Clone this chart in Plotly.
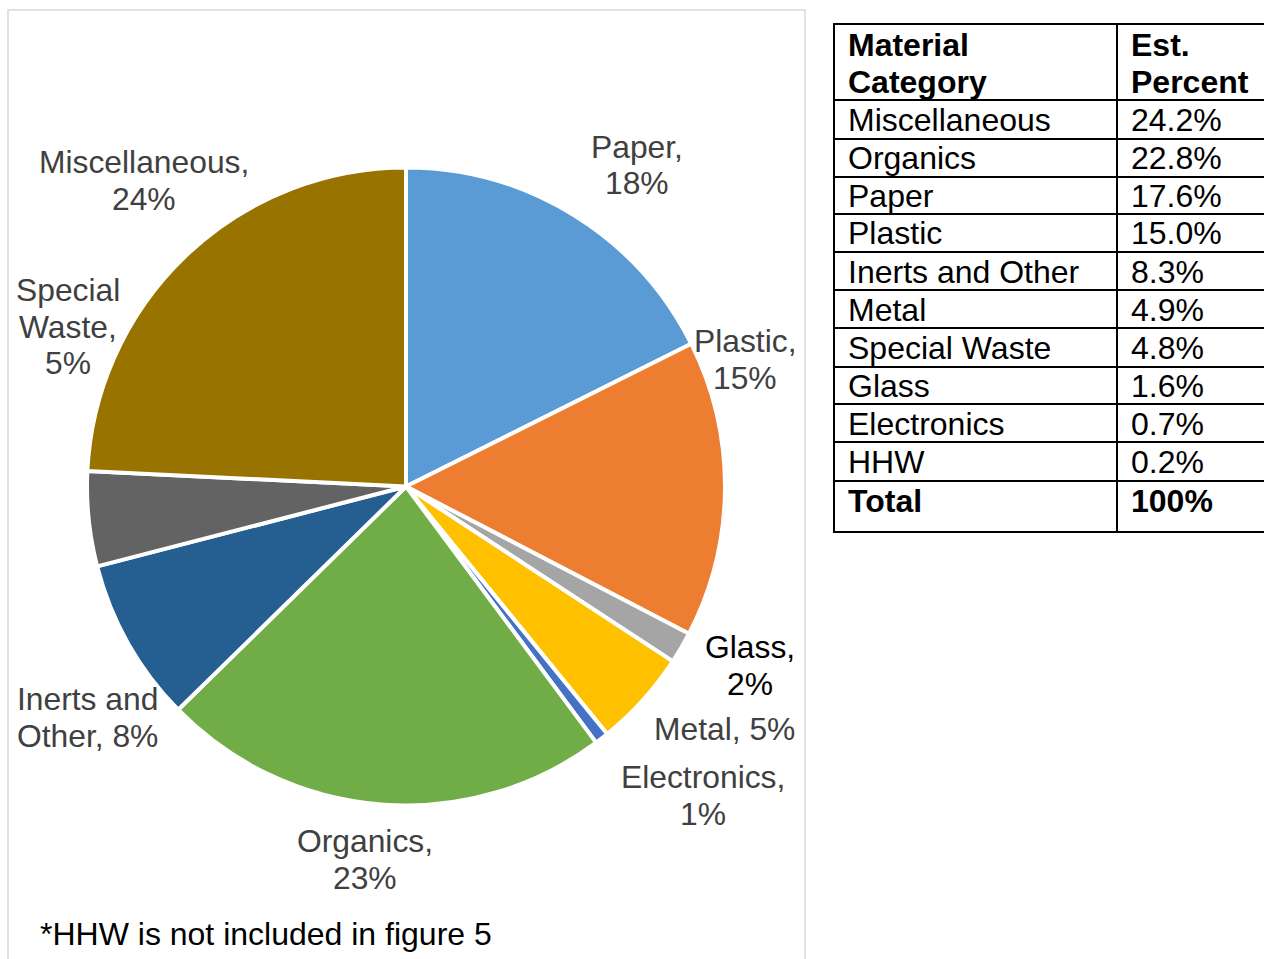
import plotly.graph_objects as go

# Composition shown in the pie (HHW is excluded from the figure)
categories = ["Paper", "Plastic", "Glass", "Metal", "Electronics",
              "Organics", "Inerts and Other", "Special Waste", "Miscellaneous"]
percents = [17.6, 15.0, 1.6, 4.9, 0.7, 22.8, 8.3, 4.8, 24.2]

# Summary table (sorted by share, HHW included)
table_categories = ["Miscellaneous", "Organics", "Paper", "Plastic", "Inerts and Other",
                    "Metal", "Special Waste", "Glass", "Electronics", "HHW"]
table_percents = [24.2, 22.8, 17.6, 15.0, 8.3, 4.9, 4.8, 1.6, 0.7, 0.2]
table_total_label = "Total"
table_total_value = "100%"
table_headers = [["Material", "Category"], ["Est.", "Percent"]]

footnote = "*HHW is not included in figure 5"

# ---- styling ----
W, H = 1264, 959
FONT = "Liberation Sans, Arial, sans-serif"
slice_colors = ["#5B9BD5", "#ED7D31", "#A5A5A5", "#FFC000", "#4472C4",
                "#70AD47", "#255E91", "#636363", "#997300"]

# data-label layout: how each label wraps, where its first line sits, colour
label_lines = {
    "Paper": ["Paper,", "{pct}"],
    "Plastic": ["Plastic,", "{pct}"],
    "Glass": ["Glass,", "{pct}"],
    "Metal": ["Metal, {pct}"],
    "Electronics": ["Electronics,", "{pct}"],
    "Organics": ["Organics,", "{pct}"],
    "Inerts and Other": ["Inerts and", "Other, {pct}"],
    "Special Waste": ["Special", "Waste,", "{pct}"],
    "Miscellaneous": ["Miscellaneous,", "{pct}"],
}
label_pos = {
    "Paper": (637, 147),
    "Plastic": (745, 341),
    "Glass": (750, 647),
    "Metal": (725, 729),
    "Electronics": (703, 777),
    "Organics": (365, 841),
    "Inerts and Other": (87, 699),
    "Special Waste": (68, 290),
    "Miscellaneous": (144, 162),
}
label_color = {"Glass": "#000000"}
LABEL_SIZE = 31.8
LINE_STEP = 36.5


def px(x):
    return x / W


def py(y):
    return 1 - y / H


# pie geometry (pixels)
cx, cy, r = 406, 486.5, 319

fig = go.Figure()
fig.add_trace(go.Pie(
    labels=categories,
    values=percents,
    sort=False,
    direction="clockwise",
    rotation=0,
    marker=dict(colors=slice_colors, line=dict(color="#FFFFFF", width=4)),
    textinfo="none",
    hoverinfo="label+percent",
    showlegend=False,
    domain=dict(x=[px(cx - r), px(cx + r)], y=[py(cy + r), py(cy - r)]),
))

annotations = []
shapes = []

# chart frame
shapes.append(dict(type="rect", xref="paper", yref="paper",
                   x0=px(8), x1=px(805), y0=py(975), y1=py(10),
                   line=dict(color="#D9D9D9", width=1.5), fillcolor="rgba(0,0,0,0)"))

# data labels
for name, val in zip(categories, percents):
    pct = f"{round(val)}%"
    x, y0 = label_pos[name]
    for i, line in enumerate(label_lines[name]):
        annotations.append(dict(
            x=px(x), y=py(y0 + i * LINE_STEP), xref="paper", yref="paper",
            text=line.format(pct=pct), showarrow=False,
            xanchor="center", yanchor="middle",
            font=dict(family=FONT, size=LABEL_SIZE, color=label_color.get(name, "#404040")),
        ))

# footnote
annotations.append(dict(x=px(38), y=py(934), xref="paper", yref="paper",
                        text=footnote, showarrow=False, xanchor="left", yanchor="middle",
                        font=dict(family=FONT, size=32, color="#000000")))

# ---- table ----
T_LEFT, T_MID, T_RIGHT = 834, 1117, 1270
h_lines = [24, 100, 139, 177, 214, 252, 290, 328, 367, 404, 442, 481, 532]
for yl in h_lines:
    shapes.append(dict(type="line", xref="paper", yref="paper",
                       x0=px(T_LEFT - 1), x1=px(T_RIGHT), y0=py(yl), y1=py(yl),
                       line=dict(color="#000000", width=2)))
for xl in (T_LEFT, T_MID):
    shapes.append(dict(type="line", xref="paper", yref="paper",
                       x0=px(xl), x1=px(xl), y0=py(h_lines[0]), y1=py(h_lines[-1]),
                       line=dict(color="#000000", width=2)))

TABLE_SIZE = 32
col_x = [846, 1129]


def cell(x, y, text, bold=False):
    annotations.append(dict(
        x=px(x), y=py(y), xref="paper", yref="paper",
        text=f"<b>{text}</b>" if bold else text, showarrow=False,
        xanchor="left", yanchor="middle",
        font=dict(family=FONT, size=TABLE_SIZE, color="#000000"),
    ))


for ci, hdr in enumerate(table_headers):
    for li, line in enumerate(hdr):
        cell(col_x[ci], 45 + li * 37, line, bold=True)

for i, (name, val) in enumerate(zip(table_categories, table_percents)):
    yc = (h_lines[i + 1] + h_lines[i + 2]) / 2 + 0.5
    cell(col_x[0], yc, name)
    cell(col_x[1], yc, f"{val:.1f}%")

cell(col_x[0], 501, table_total_label, bold=True)
cell(col_x[1], 501, table_total_value, bold=True)

fig.update_layout(
    width=W, height=H,
    margin=dict(l=0, r=0, t=0, b=0),
    paper_bgcolor="#FFFFFF",
    plot_bgcolor="#FFFFFF",
    shapes=shapes,
    annotations=annotations,
)

fig.write_html("out.html")
